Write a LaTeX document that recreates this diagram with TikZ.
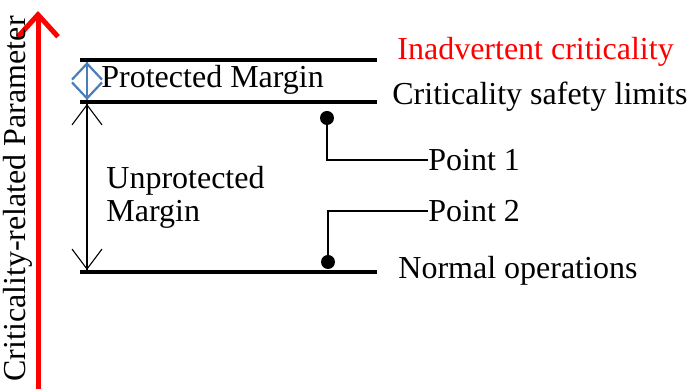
\documentclass[tikz,border=0pt]{standalone}
\usepackage{fontspec}
\setmainfont{Liberation Serif}
\usepackage{xcolor}
\definecolor{marginblue}{RGB}{74,126,187}
\usetikzlibrary{positioning,arrows.meta}

\tikzset{
	level/.style={line width=2pt},
	lbl/.style={anchor=west,inner sep=0pt,font=\fontsize{16}{19}\selectfont},
	dot/.style={circle,fill,inner sep=0pt,minimum size=7pt},
	lead/.style={line width=0.6pt}
}

\begin{document}
\begin{tikzpicture}[x=0.5pt,y=-0.5pt]
	\useasboundingbox (0,0) rectangle (687,389);
	% draw vertical axis
	\draw[-{Straight Barb[length=11pt,width=20pt]}, red, line width=2.5pt] (38,389) -- (38,11);
	\node[rotate=90,inner sep=0pt,font=\fontsize{16}{19}\selectfont] (axis) at (18,199) {Criticality-related Parameter};
	
	% draw level lines
	\coordinate (topL) at (80,60);   \coordinate (topR) at (377,60);
	\coordinate (midL) at (80,102);  \coordinate (midR) at (377,102);
	\coordinate (botL) at (80,272);  \coordinate (botR) at (377,272);
	\draw[level] (topL) -- (topR);
	\draw[level] (midL) -- (midR);
	\draw[level] (botL) -- (botR);
	
	% draw margins
	\coordinate (pm1) at (87,62);  \coordinate (pm2) at (87,100);
	\coordinate (um1) at (87,104); \coordinate (um2) at (87,270);
	\draw[marginblue, line width=1.1pt] (pm1) -- (pm2);
	\draw[{Straight Barb[length=8pt,width=15pt]}-{Straight Barb[length=8pt,width=15pt]}, marginblue, line width=1.1pt] (pm1) -- (pm2);
	\draw[line width=0.55pt] (um1) -- (um2);
	\draw[{Straight Barb[length=10pt,width=15pt]}-{Straight Barb[length=10pt,width=15pt]}, line width=0.55pt] (um1) -- (um2);
	\node[lbl] (prot) at (101,80) {Protected Margin};
	\node[lbl] (unprot) at (106,181) {Unprotected};
	\node[lbl] (umarg) at (106,214) {Margin};
	
	% level labels
	\node[lbl,red] (inad) at (397,52) {Inadvertent criticality};
	\node[lbl] (safe) at (392,97) {Criticality safety limits};
	\node[lbl] (norm) at (398,271) {Normal operations};
	
	% points
	\node[dot] (p1) at (327,118) {};
	\node[dot] (p2) at (328,262) {};
	\node[lbl] (pt1) at (428,160) {Point 1};
	\node[lbl] (pt2) at (428,211) {Point 2};
	\draw[lead] (p1) |- (pt1.west);
	\draw[lead] (p2) |- (pt2.west);
\end{tikzpicture}
\end{document}
